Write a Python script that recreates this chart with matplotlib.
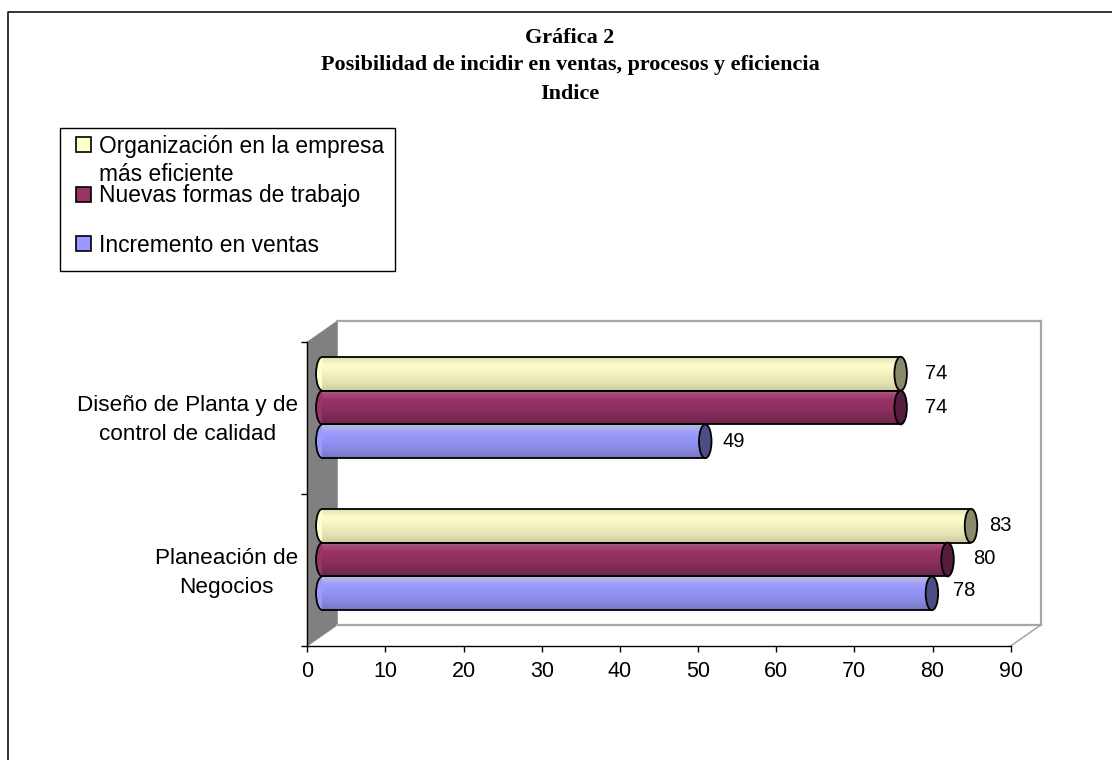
import matplotlib
matplotlib.use("Agg")
import matplotlib.pyplot as plt
import numpy as np
from matplotlib.patches import Rectangle, Polygon, Ellipse
from matplotlib.transforms import Affine2D
from matplotlib.lines import Line2D

W, H = 1112, 760
title_lines = ["Gráfica 2", "Posibilidad de incidir en ventas, procesos y eficiencia", "Indice"]
categories = ["Planeación de\nNegocios", "Diseño de Planta y de\ncontrol de calidad"]
series_names = ["Incremento en ventas", "Nuevas formas de trabajo", "Organización en la empresa\nmás eficiente"]
incremento = [78, 49]
nuevas = [80, 74]
organizacion = [83, 74]
x_ticks = [0, 10, 20, 30, 40, 50, 60, 70, 80, 90]

plt.rcParams['font.family'] = ['Liberation Sans', 'DejaVu Sans']
fig = plt.figure(figsize=(W / 100, H / 100), dpi=100, facecolor='white')

def px_box(x0, y0, x1, y1):
    return [x0 / W, 1 - y1 / H, (x1 - x0) / W, (y1 - y0) / H]

# page border: only the top and left edges fall inside the picture
fig.add_artist(Line2D([8 / W, 8 / W, 1.0], [0, 1 - 12 / H, 1 - 12 / H], transform=fig.transFigure,
                      color='black', lw=1.1))

ax = fig.add_axes(px_box(307.3, 342, 1010.7, 646))
ax.set_xlim(0, 90)
ax.set_ylim(0, 2)
ax.patch.set_visible(False)
for s in ['top', 'right']:
    ax.spines[s].set_visible(False)
for s in ['left', 'bottom']:
    ax.spines[s].set_color('black')
    ax.spines[s].set_linewidth(1.0)
    ax.spines[s].set_zorder(2)
ax.set_xticks(x_ticks)
ax.set_yticks([0, 1, 2])
ax.set_yticklabels([])
ax.tick_params(axis='x', length=4, width=1, labelsize=15.5, pad=6.5)
ax.tick_params(axis='y', which='major', length=4, width=1)
ax.set_yticks([0.5, 1.5], minor=True)
ax.tick_params(axis='y', which='minor', length=0, pad=6.5)
ax.set_yticklabels(categories, minor=True, fontsize=16.2, ha='right', va='center',
                   multialignment='center', linespacing=1.5)
for lab in ax.get_yticklabels(minor=True):
    lab.set_transform(lab.get_transform() + Affine2D().translate(0, -2.5))

dx, dy = 30, 21  # full depth of the 3D box, px
base = ax.transData
mid = base + Affine2D().translate(15, 10.5)

# walls and floor
p0 = base.transform([(0, 0), (0, 2), (90, 0), (90, 2)])
d = np.array([dx, dy])
ax.add_patch(Polygon([p0[0], p0[1], p0[1] + d, p0[0] + d], transform=None,
                     fc='#808080', ec='#808080', lw=0.5, zorder=1, clip_on=False))
grey = '#a6a6a6'
for a, b in [(p0[1] + d, p0[3] + d), (p0[0] + d, p0[2] + d), (p0[2] + d, p0[3] + d)]:
    ax.add_line(Line2D([a[0], b[0]], [a[1], b[1]], transform=None, color=grey, lw=1.6, zorder=1, clip_on=False))
ax.add_line(Line2D([p0[2][0], p0[2][0] + dx], [p0[2][1], p0[2][1] + dy], transform=None, color=grey, lw=1.1,
                   zorder=1, clip_on=False))

styles = [
    dict(stops=['#b9b9e0', '#9999ff', '#9292f4', '#8888e0', '#7777c4'], cap='#4d4d86', face='#9999ff'),
    dict(stops=['#a8557f', '#993366', '#8f3060', '#7f2b56', '#6e264b'], cap='#551c3d', face='#993366'),
    dict(stops=['#e4e4b8', '#ffffcc', '#f2f2c0', '#e4e4b4', '#d0d0a4'], cap='#89896c', face='#ffffcc'),
]

def rgb(c):
    return np.array(matplotlib.colors.to_rgb(c))

bar_h = 0.2224
cap_w = 12.5 / (703.4 / 90)
n_strips = 16
positions = [-bar_h, 0.0, bar_h]
series = [incremento, nuevas, organizacion]
label_dx = [[32, 28], [37, 36], [29, 36]]
label_dy = [[3, 0], [1, 0.5], [0, 0]]

for k, (vals, st) in enumerate(zip(series, styles)):
    stops = [rgb(c) for c in st['stops']]
    for g, v in enumerate(vals):
        yc = g + 0.5 + positions[k]
        z = (2 - k) * 0.1
        ax.add_patch(Ellipse((0, yc), cap_w, bar_h * 0.99, transform=mid, fc=st['face'], ec='black', lw=1.3,
                             zorder=3 + z, clip_on=False))
        for i in range(n_strips):
            t = i / (n_strips - 1)
            u = t * (len(stops) - 1)
            j = min(int(u), len(stops) - 2)
            col = stops[j] + (stops[j + 1] - stops[j]) * (u - j)
            h = bar_h / n_strips
            ax.barh(yc + bar_h / 2 - (i + 0.5) * h, v, height=h * 1.05, left=0, color=col, lw=0,
                    transform=mid, zorder=3.5 + z, clip_on=False)
        for sgn in (1, -1):
            ax.plot([0, v], [yc + sgn * bar_h / 2] * 2, color='black', lw=1.3, transform=mid,
                    zorder=3.6 + z, solid_capstyle='butt', clip_on=False)
        ax.add_patch(Ellipse((v, yc), cap_w, bar_h, transform=mid, fc=st['cap'], ec='black', lw=1.3,
                             zorder=3.7 + z, clip_on=False))
        ax.annotate(str(v), xy=(v, yc), xycoords=mid, xytext=(label_dx[k][g] / 1.389, label_dy[k][g] / 1.389),
                    textcoords='offset points', ha='center', va='center', fontsize=14.5, zorder=6)

# titles
for line, y in zip(title_lines, [38, 65, 94]):
    fig.text(570 / W, 1 - y / H, line, ha='center', va='center', family=['Liberation Serif'],
             fontweight='bold', fontsize=15.9, color='black')

# legend
fig.add_artist(Rectangle((59.5 / W, 1 - 271 / H), (395 - 59.5) / W, (271 - 128) / H, transform=fig.transFigure,
                         fc='white', ec='black', lw=1.0, zorder=5))
legend_swatch_y = [243.5, 194, 144]
legend_text_top = [234, 184, 135]
for k in (2, 1, 0):
    y = legend_swatch_y[k]
    fig.add_artist(Rectangle((76 / W, 1 - (y + 7.5) / H), 15 / W, 15 / H, transform=fig.transFigure,
                             fc=styles[k]['face'], ec='black', lw=1.2, zorder=6))
    fig.text(99 / W, 1 - legend_text_top[k] / H, series_names[k], ha='left', va='top', fontsize=16.4,
             linespacing=1.26, zorder=6)

fig.savefig('out.png', dpi=100)
